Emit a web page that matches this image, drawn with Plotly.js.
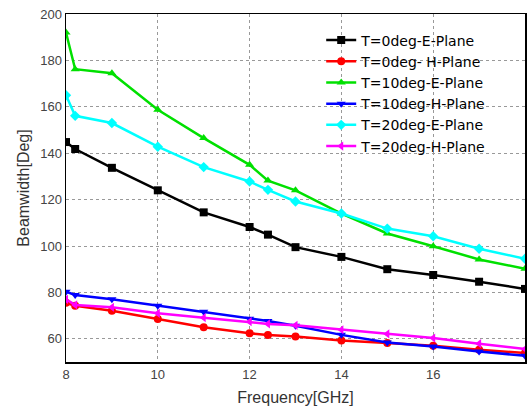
<!DOCTYPE html>
<html>
<head>
<meta charset="utf-8">
<script src="https://cdn.plot.ly/plotly-3.0.1.min.js"></script>
<style>body{margin:0;padding:0;background:#fff}#chart{width:532px;height:413px}</style>
</head>
<body>
<div id="chart"></div>
<script>
const freq = [8, 8.2, 9, 10, 11, 12, 12.4, 13, 14, 15, 16, 17, 18];
const e0  = [144.8, 141.8, 133.7, 124, 114.5, 108.2, 104.9, 99.5, 95.3, 90, 87.5, 84.6, 81.5];
const h0  = [75.5, 74.2, 72.1, 68.5, 65, 62.4, 61.6, 61, 59.3, 58.2, 57, 55.3, 53.9];
const e10 = [192, 176.2, 174.5, 158.7, 146.5, 135, 128.2, 124, 114, 105.4, 99.9, 94.2, 90.2];
const h10 = [80.3, 78.9, 77, 74.2, 71.7, 68.6, 67.7, 65.6, 61.7, 58.4, 56.7, 54.5, 52.7];
const e20 = [165, 156.1, 153, 142.8, 134, 127.8, 124.2, 119.2, 114, 107.5, 104.2, 98.8, 94.5];
const h20 = [77, 74.6, 73.6, 71, 69.1, 67.4, 66.4, 65.8, 63.9, 62.1, 60.3, 57.9, 55.6];
const names = ['T=0deg-E-Plane', 'T=0deg- H-Plane', 'T=10deg-E-Plane', 'T=10deg-H-Plane', 'T=20deg-E-Plane', 'T=20deg-H-Plane'];
const series = [e0, h0, e10, h10, e20, h20];
const colors = ['#000000', '#ff0000', '#00e000', '#0000ff', '#00ffff', '#ff00ff'];
const symbols = ['square', 'circle', 'triangle-up', 'triangle-down', 'diamond', 'triangle-left'];

const traces = series.map((s, i) => ({
  x: freq, y: s, name: names[i], type: 'scatter', mode: 'lines+markers',
  line: {color: colors[i], width: 2.5},
  marker: {symbol: symbols[i], size: 8, color: colors[i]}
}));

const FONT = 'Liberation Sans, Arial, sans-serif';
const axisCommon = {
  showline: true, mirror: true, linecolor: '#000', linewidth: 1.5,
  showgrid: true, gridcolor: '#999', griddash: 'dot', gridwidth: 1,
  zeroline: false, ticks: '', tickfont: {family: FONT, size: 13, color: '#444'}
};

const layout = {
  width: 532, height: 413,
  margin: {l: 66, r: 7, t: 14, b: 51},
  paper_bgcolor: '#fff', plot_bgcolor: '#fff',
  showlegend: true,
  legend: {x: 0.556, y: 0.97, xanchor: 'left', yanchor: 'top', bgcolor: 'rgba(255,255,255,0)',
           font: {family: 'DejaVu Sans, sans-serif', size: 14, color: '#000'},
           tracegroupgap: 0, itemwidth: 30},
  xaxis: Object.assign({}, axisCommon, {
    range: [8, 18], dtick: 2, tick0: 8,
    title: {text: 'Frequency[GHz]', font: {family: FONT, size: 16, color: '#333'}, standoff: 10}
  }),
  yaxis: Object.assign({}, axisCommon, {
    range: [50, 200], tickvals: [60, 80, 100, 120, 140, 160, 180, 200],
    title: {text: 'Beamwidth[Deg]', font: {family: FONT, size: 16, color: '#333'}, standoff: 6}
  })
};

Plotly.newPlot('chart', traces, layout, {displayModeBar: false, staticPlot: true});
</script>
</body>
</html>
